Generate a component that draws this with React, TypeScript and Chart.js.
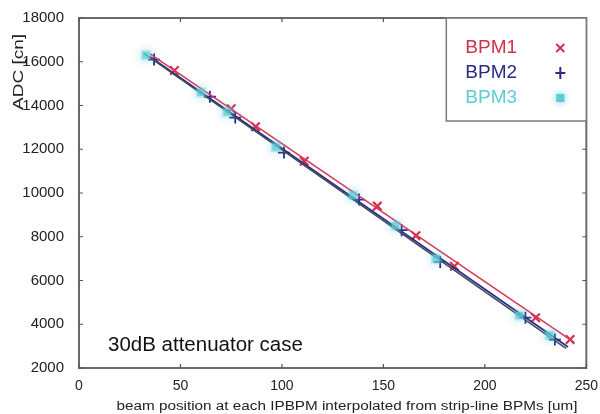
import React, { useEffect, useRef } from "react";
import { Chart, registerables } from "chart.js";

Chart.register(...registerables);

// ---- data ----
const bpm1X = [47, 75, 87, 111, 147, 166, 185, 225, 242];
const bpm1Y = [15600, 13850, 13030, 11450, 9400, 8050, 6650, 4300, 3300];
const bpm2X = [37, 64.5, 77, 101, 138, 159, 178, 220, 234.5];
const bpm2Y = [16100, 14400, 13450, 11850, 9700, 8300, 6850, 4300, 3300];
const bpm3X = [33, 60, 73, 97, 135, 156, 176, 217, 232];
const bpm3Y = [16300, 14600, 13700, 12100, 9900, 8500, 7000, 4400, 3500];

const fit1X = [35, 244];
const fit1Y = [16357, 3174];
const fit2X = [35, 241];
const fit2Y = [16230, 2960];
const fit3X = [32, 240];
const fit3Y = [16380, 2900];

const xMin = 0, xMax = 250, xStep = 50;
const yMin = 2000, yMax = 18000, yStep = 2000;

const seriesNames = ["BPM1", "BPM2", "BPM3"];
const seriesColors = ["#d4304a", "#2a2a86", "#5fcbd4"];
const annotationText = "30dB attenuator case";
const xTitle = "beam position at each IPBPM interpolated from strip-line BPMs [um]";
const yTitle = "ADC [cn]";

const FONT = "'Liberation Sans', Arial, Helvetica, sans-serif";

const pts = (xs: number[], ys: number[]) => xs.map((x, i) => ({ x, y: ys[i] }));

const glowPlugin = {
  id: "glow",
  beforeDatasetDraw(chart: any, args: any) {
    if (args.index === 0) {
      chart.ctx.save();
      chart.ctx.shadowColor = "rgba(80,200,220,0.9)";
      chart.ctx.shadowBlur = 10;
    }
  },
  afterDatasetDraw(chart: any, args: any) {
    if (args.index === 0) chart.ctx.restore();
  },
};

const framePlugin = {
  id: "frame",
  afterDatasetsDraw(chart: any) {
    const { ctx, chartArea: a, scales } = chart;
    const xs = scales.x, ys = scales.y;
    ctx.save();
    ctx.strokeStyle = "#6a6a6a";
    ctx.lineWidth = 2;
    ctx.strokeRect(a.left, a.top, a.right - a.left, a.bottom - a.top);
    ctx.lineWidth = 1.2;
    ctx.strokeStyle = "#555";
    for (let v = xMin; v <= xMax; v += xStep) {
      const px = xs.getPixelForValue(v);
      ctx.beginPath();
      ctx.moveTo(px, a.bottom); ctx.lineTo(px, a.bottom - 4);
      ctx.moveTo(px, a.top); ctx.lineTo(px, a.top + 4);
      ctx.stroke();
    }
    for (let v = yMin; v <= yMax; v += yStep) {
      const py = ys.getPixelForValue(v);
      ctx.beginPath();
      ctx.moveTo(a.left, py); ctx.lineTo(a.left + 4, py);
      ctx.moveTo(a.right, py); ctx.lineTo(a.right - 4, py);
      ctx.stroke();
    }
    // legend box
    const lx = a.right - 140, ly = a.top, lw = 140, lh = 103;
    ctx.fillStyle = "#fff";
    ctx.fillRect(lx, ly, lw, lh);
    ctx.strokeStyle = "#7a7a7a";
    ctx.lineWidth = 1.5;
    ctx.strokeRect(lx, ly, lw, lh);
    ctx.font = `19px ${FONT}`;
    ctx.textBaseline = "middle";
    ctx.textAlign = "left";
    seriesNames.forEach((name, i) => {
      const cy = ly + 30 + i * 25;
      ctx.fillStyle = seriesColors[i];
      ctx.fillText(name, lx + 19, cy);
      const mx = lx + 114;
      ctx.strokeStyle = seriesColors[i];
      ctx.lineWidth = 2;
      if (i === 0) {
        ctx.beginPath();
        ctx.moveTo(mx - 4, cy - 4); ctx.lineTo(mx + 4, cy + 4);
        ctx.moveTo(mx + 4, cy - 4); ctx.lineTo(mx - 4, cy + 4);
        ctx.stroke();
      } else if (i === 1) {
        ctx.beginPath();
        ctx.moveTo(mx - 5, cy); ctx.lineTo(mx + 5, cy);
        ctx.moveTo(mx, cy - 6); ctx.lineTo(mx, cy + 6);
        ctx.stroke();
      } else {
        ctx.save();
        ctx.shadowColor = "rgba(80,200,220,0.9)";
        ctx.shadowBlur = 6;
        ctx.fillStyle = seriesColors[2];
        ctx.fillRect(mx - 4, cy - 4, 8, 8);
        ctx.restore();
      }
    });
    // annotation
    ctx.fillStyle = "#111";
    ctx.font = `20.5px ${FONT}`;
    ctx.textBaseline = "alphabetic";
    ctx.fillText(annotationText, a.left + 29, a.bottom - 17);
    // x title, stretched to the reference width
    ctx.fillStyle = "#222";
    ctx.font = `12px ${FONT}`;
    ctx.textAlign = "center";
    const wx = ctx.measureText(xTitle).width;
    ctx.save();
    ctx.translate(347, chart.height - 4);
    ctx.scale(461 / wx, 1);
    ctx.fillText(xTitle, 0, 0);
    ctx.restore();
    // y title
    ctx.save();
    ctx.font = `15px ${FONT}`;
    const wy = ctx.measureText(yTitle).width;
    ctx.translate(19, 72);
    ctx.rotate(-Math.PI / 2);
    ctx.scale(76 / wy, 1);
    ctx.textBaseline = "middle";
    ctx.fillText(yTitle, 0, 0);
    ctx.restore();
    ctx.restore();
  },
};

export default function App() {
  const ref = useRef<HTMLCanvasElement>(null);
  useEffect(() => {
    document.body.style.margin = "0";
    const lineDs = (xs: number[], ys: number[], color: string) => ({
      type: "line" as const,
      data: pts(xs, ys),
      borderColor: color,
      borderWidth: 1.6,
      pointRadius: 0,
      showLine: true,
      fill: false,
    });
    const chart = new Chart(ref.current!, {
      type: "scatter",
      data: {
        datasets: [
          {
            label: seriesNames[2],
            data: pts(bpm3X, bpm3Y),
            pointStyle: "rect",
            pointRadius: 5,
            backgroundColor: "rgba(95,203,212,0.7)",
            borderColor: "rgba(95,203,212,0.3)",
            borderWidth: 3,
          } as any,
          lineDs(fit3X, fit3Y, "#3c4a58"),
          lineDs(fit2X, fit2Y, "#2a2a86"),
          lineDs(fit1X, fit1Y, "#d83a5c"),
          {
            label: seriesNames[1],
            data: pts(bpm2X, bpm2Y),
            pointStyle: "cross",
            pointRadius: 6,
            borderColor: seriesColors[1],
            borderWidth: 1.8,
          } as any,
          {
            label: seriesNames[0],
            data: pts(bpm1X, bpm1Y),
            pointStyle: "crossRot",
            pointRadius: 6,
            borderColor: seriesColors[0],
            borderWidth: 2.2,
          } as any,
        ],
      },
      options: {
        animation: false,
        responsive: false,
        layout: { padding: { left: 0, right: 13, top: 18, bottom: 0 } },
        plugins: { legend: { display: false }, tooltip: { enabled: false } },
        scales: {
          x: {
            type: "linear",
            min: xMin,
            max: xMax,
            grid: { display: false },
            border: { display: false },
            ticks: {
              stepSize: xStep,
              color: "#222",
              font: { family: FONT, size: 14 },
              padding: 2,
              callback: (v: any) => String(v),
            },
            afterFit: (s: any) => { s.height = 46; },
          },
          y: {
            type: "linear",
            min: yMin,
            max: yMax,
            grid: { display: false },
            border: { display: false },
            ticks: {
              stepSize: yStep,
              color: "#222",
              font: { family: FONT, size: 15 },
              padding: 7,
              callback: (v: any) => String(v),
            },
            afterFit: (s: any) => { s.width = 79; },
          },
        },
      },
      plugins: [glowPlugin, framePlugin],
    } as any);
    return () => chart.destroy();
  }, []);
  return <canvas ref={ref} width={600} height={414} style={{ display: "block" }} />;
}
